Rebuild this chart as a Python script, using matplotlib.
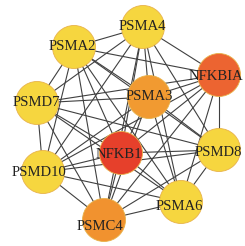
import matplotlib

matplotlib.use("Agg")
import matplotlib.pyplot as plt
from matplotlib.patches import Circle
from itertools import combinations

# node names, layout position (pixel space), and fill colour
names = ["PSMA4", "PSMA2", "NFKBIA", "PSMA3", "PSMD7",
         "NFKB1", "PSMD8", "PSMD10", "PSMA6", "PSMC4"]
pos_x = [143, 74, 219, 149, 37, 121, 219, 43, 181, 104]
pos_y = [27, 47, 75, 97, 103, 153, 150, 172, 202, 220]
colors = ["#F6D63F", "#F6D63F", "#EC6431", "#F19A31", "#F6D63F",
          "#E6402B", "#F6D63F", "#F6D63F", "#F6D63F", "#F1922F"]
label_dx = [-1, -2, -3, 0, -1, -2, -1, -4, -2, -4]
label_dy = [0, 0, 1, 0, 0, 2, 3, 0, 5, 7]

# interaction list (near-complete network)
edges = list(combinations(names, 2))

R = 21.5
idx = {n: i for i, n in enumerate(names)}

fig = plt.figure(figsize=(2.45, 2.46), dpi=100)
ax = fig.add_axes([0, 0, 1, 1])
ax.set_xlim(0, 245)
ax.set_ylim(246, 0)
ax.set_aspect("equal")
ax.axis("off")

for a, b in edges:
    i, j = idx[a], idx[b]
    ax.plot([pos_x[i], pos_x[j]], [pos_y[i], pos_y[j]],
            color="#404040", lw=0.8, zorder=1)

for i, n in enumerate(names):
    ax.add_patch(Circle((pos_x[i], pos_y[i]), R, fc=colors[i],
                        ec="#E8B24A", lw=0.6, zorder=2))
    ax.text(pos_x[i] + label_dx[i], pos_y[i] + label_dy[i], n,
            ha="center", va="center",
            fontsize=10.6, family="Liberation Serif", color="#222222", zorder=3)

fig.savefig("out.png", dpi=100)
